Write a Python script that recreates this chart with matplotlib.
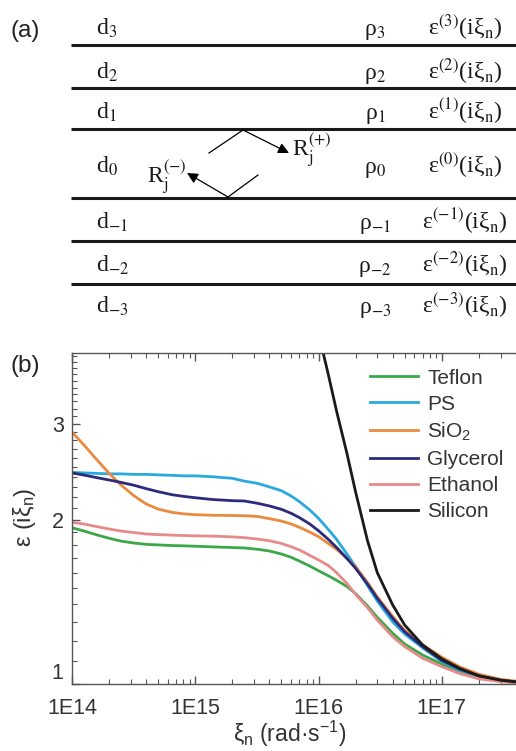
import numpy as np
import matplotlib
matplotlib.use('Agg')
import matplotlib.pyplot as plt
from matplotlib.ticker import LogLocator, NullFormatter, FixedLocator

plt.rcParams['font.family'] = ['Liberation Sans', 'DejaVu Sans']
plt.rcParams['mathtext.fontset'] = 'custom'
plt.rcParams['mathtext.rm'] = 'Liberation Sans'
plt.rcParams['mathtext.it'] = 'Liberation Sans:italic'
plt.rcParams['mathtext.bf'] = 'Liberation Sans:bold'

# ---- data ----
# panel (a): layer stack
layer_index = ['3', '2', '1', '0', '-1', '-2', '-3']

# panel (b): dielectric function on imaginary frequency axis
xi = [1e14, 1.25e14, 1.6e14, 2e14, 2.5e14, 3.2e14, 4e14, 5e14, 6.5e14, 8e14,
      1e15, 1.4e15, 2e15, 2.5e15, 3.2e15, 4e15, 5e15, 6e15, 7e15, 8.5e15,
      1e16, 1.2e16, 1.4e16, 1.7e16, 2e16, 2.5e16, 3e16, 4e16, 5e16, 7e16,
      1e17, 1.4e17, 2e17, 3e17, 4e17]
teflon = [1.935, 1.909, 1.877, 1.851, 1.829, 1.814, 1.804, 1.80, 1.795, 1.793,
          1.79, 1.785, 1.78, 1.777, 1.767, 1.754, 1.732, 1.708, 1.681, 1.646,
          1.614, 1.58, 1.55, 1.51, 1.465, 1.39, 1.325, 1.239, 1.184, 1.13,
          1.088, 1.052, 1.027, 1.012, 1.006]
ps = [2.446, 2.44, 2.435, 2.43, 2.43, 2.425, 2.425, 2.42, 2.415, 2.41,
      2.41, 2.40, 2.385, 2.357, 2.334, 2.30, 2.263, 2.213, 2.161, 2.086,
      2.014, 1.922, 1.843, 1.732, 1.642, 1.515, 1.42, 1.30, 1.235, 1.165,
      1.10, 1.06, 1.033, 1.015, 1.008]
sio2 = [2.90, 2.745, 2.576, 2.436, 2.318, 2.213, 2.14, 2.094, 2.065, 2.053,
        2.045, 2.04, 2.038, 2.036, 2.03, 2.011, 1.991, 1.966, 1.939, 1.90,
        1.864, 1.811, 1.767, 1.70, 1.642, 1.535, 1.445, 1.33, 1.255, 1.18,
        1.12, 1.075, 1.042, 1.02, 1.012]
glycerol = [2.44, 2.418, 2.391, 2.368, 2.344, 2.315, 2.283, 2.254, 2.225, 2.21,
            2.197, 2.18, 2.17, 2.167, 2.146, 2.122, 2.092, 2.057, 2.02, 1.966,
            1.911, 1.843, 1.781, 1.70, 1.63, 1.525, 1.436, 1.32, 1.247, 1.171,
            1.105, 1.065, 1.035, 1.016, 1.009]
ethanol = [1.98, 1.966, 1.944, 1.925, 1.909, 1.896, 1.885, 1.88, 1.876, 1.873,
           1.87, 1.868, 1.862, 1.856, 1.845, 1.832, 1.811, 1.786, 1.762, 1.722,
           1.689, 1.65, 1.601, 1.53, 1.46, 1.38, 1.31, 1.221, 1.171, 1.115,
           1.076, 1.045, 1.022, 1.01, 1.005]
silicon_xi = [7e15, 8.5e15, 1e16, 1.2e16, 1.4e16, 1.7e16, 2e16, 2.5e16, 3e16,
              4e16, 5e16, 7e16, 1e17, 1.4e17, 2e17, 3e17, 4e17]
silicon = [6.0, 5.1, 4.4, 3.7, 3.17, 2.65, 2.25, 1.83, 1.60,
           1.396, 1.283, 1.179, 1.112, 1.068, 1.035, 1.016, 1.009]

x_ticks = [1e14, 1e15, 1e16, 1e17]
x_tick_labels = ['1E14', '1E15', '1E16', '1E17']
y_ticks = [1, 2, 3]

fig = plt.figure(figsize=(5.16, 7.51), dpi=100)

# ---- panel (a): schematic drawn in pixel coordinates ----
top = fig.add_axes([0, 0, 1, 1])
top.set_xlim(0, 516)
top.set_ylim(751, 0)
top.axis('off')

boundary_y = [45, 88, 129, 198, 241, 284]
baseline_y = [35, 79, 119, 173, 229, 272, 313]
for y in boundary_y:
    top.plot([71, 516], [y, y], color='#1a1a1a', lw=2.2, solid_capstyle='butt')

serif = dict(family='Liberation Serif', fontsize=17, color='#1a1a1a',
             math_fontfamily='stix', va='baseline')
for idx, y in zip(layer_index, baseline_y):
    top.text(96, y, 'd$_{%s}$' % idx, ha='left', **serif)
    top.text(375, y, '\u03c1$_{%s}$' % idx, ha='center', **serif)
    top.text(465, y, '\u03b5$^{(%s)}$(i\u03be$_{\\mathrm{n}}$)' % idx, ha='center', **serif)

# reflection arrows inside layer 0
top.plot([209, 243], [153, 130], color='k', lw=0.9)
top.annotate('', xy=(289, 153), xytext=(243, 130),
             arrowprops=dict(arrowstyle='-|>', color='k', lw=0.9,
                             mutation_scale=16, shrinkA=0, shrinkB=0))
top.plot([258, 228], [175, 197], color='k', lw=0.9)
top.annotate('', xy=(187, 173), xytext=(228, 197),
             arrowprops=dict(arrowstyle='-|>', color='k', lw=0.9,
                             mutation_scale=16, shrinkA=0, shrinkB=0))
top.text(292, 157, 'R$_{\\mathrm{j}}^{(+)}$', ha='left', **serif)
top.text(147, 184, 'R$_{\\mathrm{j}}^{(-)}$', ha='left', **serif)

top.text(11, 31, '(a)', fontsize=17.5, va='center', ha='left', color='#222222')
top.text(11, 366, '(b)', fontsize=17.5, va='center', ha='left', color='#222222')

# ---- panel (b): epsilon(i xi_n) ----
ax = fig.add_axes([72 / 516, (751 - 684) / 751, 444 / 516, 331 / 751])
ax.plot(xi, teflon, color='#3aa847', lw=2, label='Teflon')
ax.plot(xi, ps, color='#2aa9e0', lw=2, label='PS')
ax.plot(xi, sio2, color='#e98a3e', lw=2, label='SiO$_{\\mathrm{2}}$')
ax.plot(xi, glycerol, color='#2b2a7b', lw=2, label='Glycerol')
ax.plot(xi, ethanol, color='#e68a8a', lw=2, label='Ethanol')
ax.plot(silicon_xi, silicon, color='#1a1a1a', lw=2, label='Silicon')

ax.set_xscale('log')
ax.set_yscale('log')
ax.set_xlim(1e14, 4e17)
ax.set_ylim(1, 4.05)

ax.set_xticks(x_ticks)
ax.set_xticklabels(x_tick_labels)
ax.xaxis.set_minor_locator(LogLocator(base=10, subs=range(2, 10)))
ax.xaxis.set_minor_formatter(NullFormatter())
ax.set_yticks(y_ticks)
ylabels = ax.set_yticklabels([str(v) for v in y_ticks])
ylabels[0].set_va('bottom')  # lift the "1" clear of the x labels
minor_y = [round(v, 1) for v in np.arange(1.1, 4.05, 0.1) if round(v, 1) not in (2.0, 3.0)]
ax.yaxis.set_minor_locator(FixedLocator(minor_y))
ax.yaxis.set_minor_formatter(NullFormatter())

ax.tick_params(which='both', direction='in', top=True, right=False,
               color='#555555', labelsize=15.5, labelcolor='#333333')
ax.tick_params(which='major', length=6, width=1)
ax.tick_params(which='minor', length=3.5, width=0.8)
ax.tick_params(axis='x', which='major', pad=10)
ax.tick_params(axis='y', which='major', pad=6)
for side in ['left', 'bottom', 'top']:
    ax.spines[side].set_color('#555555')
    ax.spines[side].set_linewidth(1)
ax.spines['right'].set_visible(False)

ax.set_ylabel('\u03b5 (i\u03be$_{\\mathrm{n}}$)', fontsize=17, color='#333333')
ax.yaxis.set_label_coords(-0.077, 0.505)
ax.set_xlabel('\u03be$_{\\mathrm{n}}$ (rad\u00b7s$^{\\mathrm{-1}}$)', fontsize=16.5, color='#333333')
ax.xaxis.set_label_coords(0.491, -0.105)

ax.legend(loc='upper left', bbox_to_anchor=(0.671, 0.953), frameon=False,
          fontsize=15, handlelength=2.3, handletextpad=0.45, labelspacing=0.34,
          borderpad=0, borderaxespad=0, labelcolor='#333333')

fig.savefig('out.png', dpi=100)
